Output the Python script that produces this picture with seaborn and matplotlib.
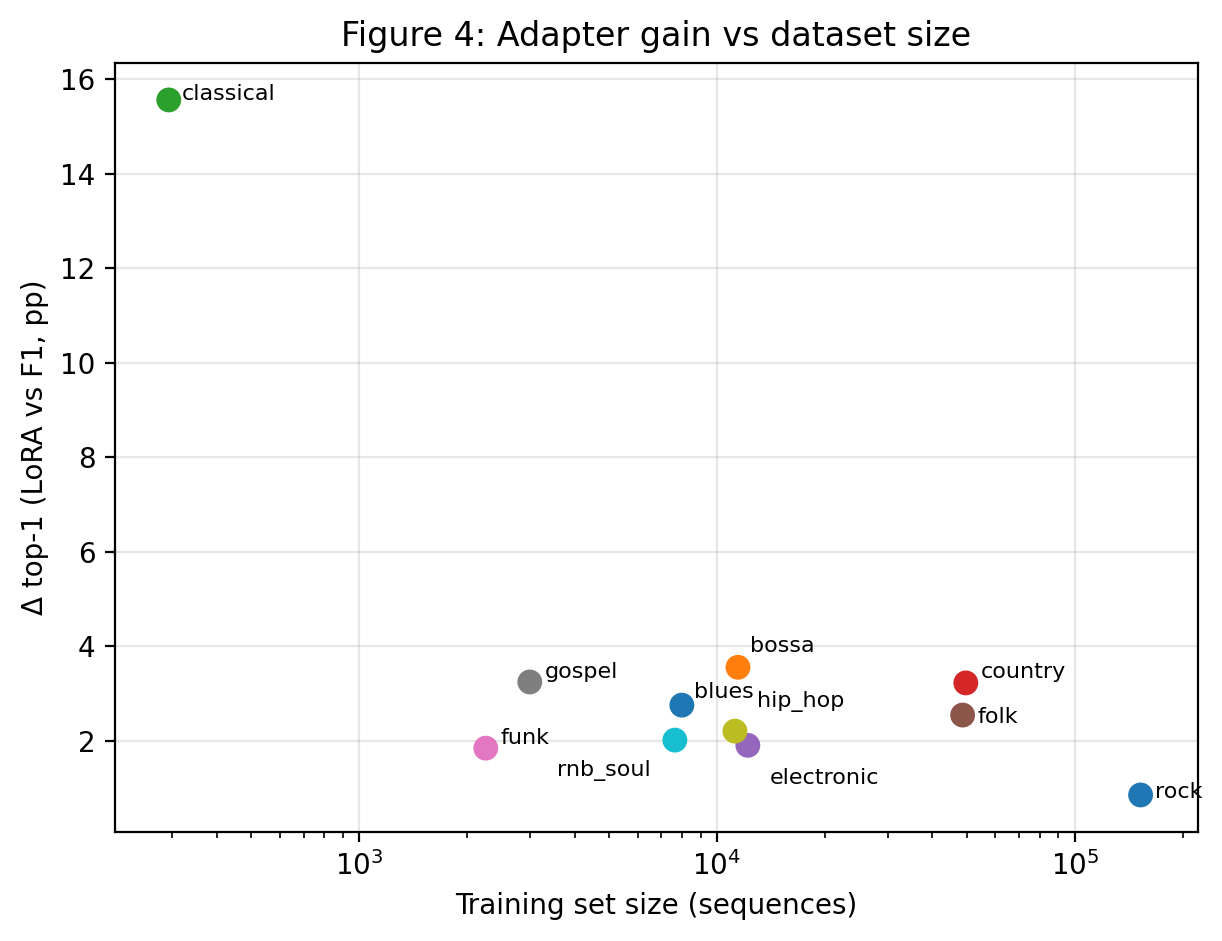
import pandas as pd
import matplotlib
matplotlib.use("Agg")
import matplotlib.pyplot as plt
import seaborn as sns

# values
genres = ["blues", "bossa", "classical", "country", "electronic", "folk",
          "funk", "gospel", "hip_hop", "rnb_soul", "rock"]
train_size = [7980, 11450, 294, 49600, 12200, 48600,
              2260, 3000, 11230, 7630, 152700]
delta_top1 = [2.76, 3.56, 15.56, 3.23, 1.91, 2.55,
              1.85, 3.25, 2.21, 2.02, 0.86]

# label placement (offset in points, horizontal alignment)
label_pos = {
    "blues": (4.3, 4.7, "left"),
    "bossa": (4.3, 7.6, "left"),
    "classical": (4.7, 2.2, "left"),
    "country": (5.2, 4.0, "left"),
    "electronic": (7.9, -11.9, "left"),
    "folk": (5.4, -0.7, "left"),
    "funk": (5.4, 3.6, "left"),
    "gospel": (5.4, 3.6, "left"),
    "hip_hop": (7.9, 10.8, "left"),
    "rnb_soul": (-8.6, -10.8, "right"),
    "rock": (5.2, 1.1, "left"),
}

df = pd.DataFrame({"genre": genres, "size": train_size, "delta": delta_top1})
tab = sns.color_palette("tab10")
palette = {g: tab[i % 10] for i, g in enumerate(genres)}

fig, ax = plt.subplots(figsize=(6.11, 4.705), dpi=200)
fig.subplots_adjust(left=0.0941, right=0.9804, top=0.933, bottom=0.1158)

sns.scatterplot(data=df, x="size", y="delta", hue="genre", palette=palette,
                s=80, edgecolor="none", legend=False, ax=ax, zorder=3)
ax.set_xscale("log")
ax.set_xlim(208, 221000)
ax.set_ylim(0.076, 16.34)

for g, x, y in zip(genres, train_size, delta_top1):
    dx, dy, ha = label_pos[g]
    ax.annotate(g, (x, y), xytext=(dx, dy), textcoords="offset points",
                ha=ha, va="center", fontsize=8)

ax.grid(True, alpha=0.3)
ax.set_axisbelow(True)
ax.set_xlabel("Training set size (sequences)")
ax.set_ylabel("Δ top-1 (LoRA vs F1, pp)")
ax.set_title("Figure 4: Adapter gain vs dataset size")

fig.savefig("out.png", dpi=200)
